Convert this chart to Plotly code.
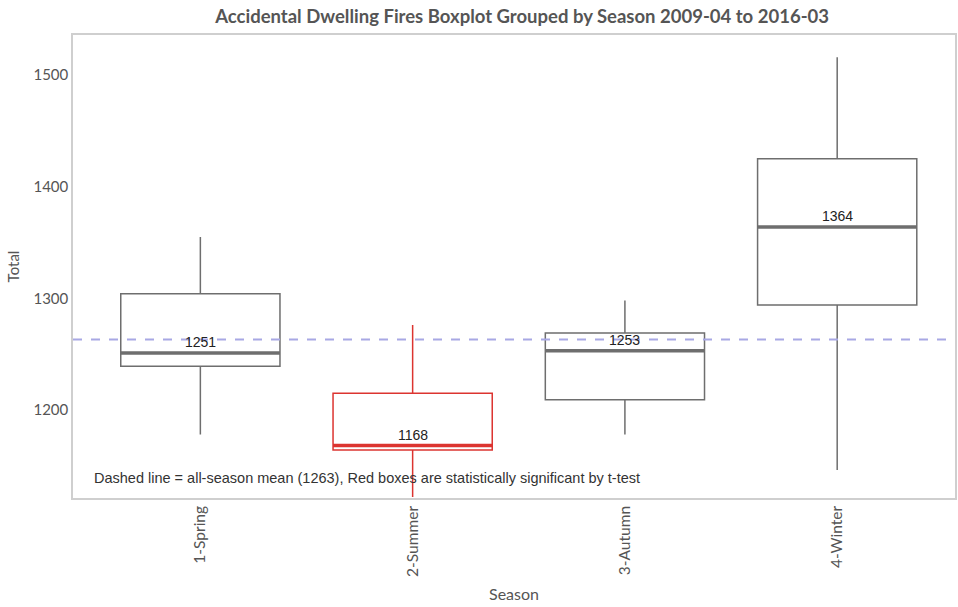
import plotly.graph_objects as go

# Seasonal summary statistics of accidental dwelling fires, 2009-04 to 2016-03
seasons = ["1-Spring", "2-Summer", "3-Autumn", "4-Winter"]
lower_whisker = [1178, 1122, 1178, 1146]
q1 = [1239, 1164, 1209, 1294]
median = [1251, 1168, 1253, 1364]
q3 = [1304, 1215, 1269, 1425]
upper_whisker = [1355, 1276, 1298, 1516]
significant = [False, True, False, False]
overall_mean = 1263

GREY = "#6e6e6e"
RED = "#dc3430"
BOX_W = 0.75
TXT = "#555555"
UI_FONT = "Lato, Open Sans"
LABEL_FONT = "Liberation Sans, Arial"

fig = go.Figure()

for i, s in enumerate(seasons):
    col = RED if significant[i] else GREY
    fig.add_trace(go.Box(
        x=[i], q1=[q1[i]], median=[median[i]], q3=[q3[i]],
        lowerfence=[lower_whisker[i]], upperfence=[upper_whisker[i]],
        width=BOX_W, whiskerwidth=0,
        line=dict(color=col, width=1.5),
        fillcolor="rgba(255,255,255,0)",
        boxpoints=False, name=s, showlegend=False, hoverinfo="skip",
    ))
    # heavier median bar
    fig.add_trace(go.Scatter(
        x=[i - BOX_W / 2, i + BOX_W / 2], y=[median[i], median[i]],
        mode="lines", line=dict(color=col, width=3.5),
        showlegend=False, hoverinfo="skip",
    ))
    # median value label
    fig.add_annotation(
        x=i, y=median[i], text=str(median[i]), showarrow=False,
        yanchor="bottom", yshift=1,
        font=dict(family=LABEL_FONT, size=14, color="#222"),
    )

# all-season mean
fig.add_trace(go.Scatter(
    x=[-0.6, 3.6], y=[overall_mean, overall_mean], mode="lines",
    line=dict(color="#a8a8e4", width=2, dash="dash"),
    showlegend=False, hoverinfo="skip",
))

fig.add_annotation(
    x=0.022, xref="paper", y=1139, yref="y", xanchor="left", yanchor="middle",
    text=f"Dashed line = all-season mean ({overall_mean}), Red boxes are statistically significant by t-test",
    showarrow=False,
    font=dict(family=LABEL_FONT, size=14.5, color="#333"),
)

fig.update_layout(
    width=958, height=607,
    margin=dict(l=73, r=1, t=35, b=109),
    paper_bgcolor="white", plot_bgcolor="white",
    title=dict(
        text="Accidental Dwelling Fires Boxplot Grouped by Season 2009-04 to 2016-03",
        x=0.545, xanchor="center", y=0.972, yanchor="middle",
        font=dict(family=UI_FONT, size=18.5, color=TXT, weight="bold"),
    ),
    xaxis=dict(
        range=[-0.6, 3.555], tickmode="array", tickvals=list(range(len(seasons))),
        ticktext=seasons, tickangle=-90, showgrid=False, zeroline=False,
        showline=True, linecolor="#cfcfcf", linewidth=1.5, mirror=True,
        tickfont=dict(family=UI_FONT, size=15.5, color=TXT),
        title=dict(text="Season", font=dict(family=UI_FONT, size=16, color=TXT),
                   standoff=13),
    ),
    yaxis=dict(
        range=[1121, 1536], tickvals=[1200, 1300, 1400, 1500],
        showgrid=False, zeroline=False,
        showline=True, linecolor="#cfcfcf", linewidth=1.5, mirror=True,
        tickfont=dict(family=UI_FONT, size=15, color=TXT),
        ticks="", ticklen=0,
        title=dict(text="Total", font=dict(family=UI_FONT, size=15, color=TXT),
                   standoff=10),
    ),
)

fig.write_html("out.html")
